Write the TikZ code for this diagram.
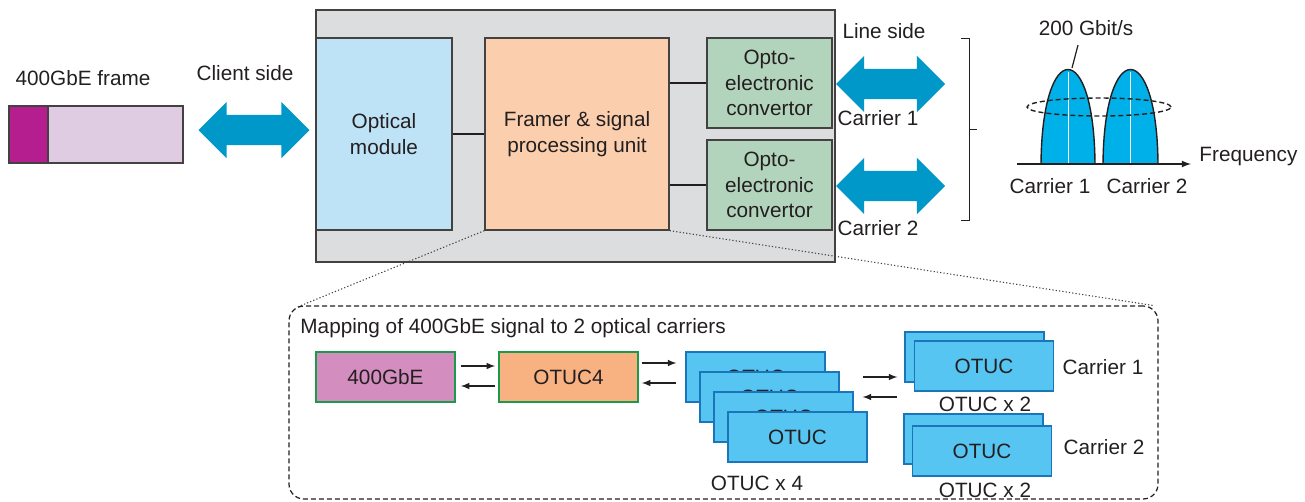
\documentclass[tikz,border=0pt]{standalone}
\usepackage{fontspec}
\setmainfont{Liberation Sans}
\usetikzlibrary{shapes.arrows}

\definecolor{ink}{HTML}{231F20}
\definecolor{boxgray}{HTML}{DCDDDF}
\definecolor{opticblue}{HTML}{BEE3F7}
\definecolor{framerpeach}{HTML}{FBCFAD}
\definecolor{optogreen}{HTML}{B3D4BC}
\definecolor{arrowblue}{HTML}{0098C8}
\definecolor{framebody}{HTML}{DFCCE2}
\definecolor{framehead}{HTML}{B41E8E}
\definecolor{lobecyan}{HTML}{00B0E8}
\definecolor{gbepink}{HTML}{D38DBF}
\definecolor{otucorange}{HTML}{F8B282}
\definecolor{greenedge}{HTML}{1B9A4B}
\definecolor{otucfill}{HTML}{56C5F1}
\definecolor{otucedge}{HTML}{1B75BB}

\begin{document}
\begin{tikzpicture}[x=0.2mm, y=-0.2mm, >=latex, line width=0.7pt, draw=ink,
  every node/.style={font=\fontsize{11.8}{14.5}\selectfont, text=ink},
  blk/.style={rectangle, draw=ink!85, line width=0.7pt, inner sep=0pt, align=center},
  bigarrow/.style={double arrow, fill=arrowblue, inner xsep=0pt, inner ysep=2.9mm, minimum height=22.2mm, double arrow head extend=2.6mm},
  gbox/.style={blk, draw=greenedge, line width=0.9pt, minimum width=27.8mm, minimum height=10mm},
  otuc/.style={blk, draw=otucedge, fill=otucfill, minimum width=27.8mm, minimum height=10mm},
  zoomline/.style={ink!85, line width=0.6pt, dash pattern=on 0.7pt off 1.2pt}]
  \useasboundingbox (0,0) rectangle (1305,501);

  \node (frametitle) at (83,78) {400GbE frame};
  \node[blk, fill=framebody, minimum width=27mm, minimum height=11.4mm] (fbody) at (115.5,134.5) {};
  \node[blk, fill=framehead, minimum width=7.8mm, minimum height=11.4mm] (fhead) at (28.5,134.5) {};
  \node[bigarrow] (clientarrow) at (254,130) {};
  \node (clientside) at (245,73) {Client side};

  \node[blk, fill=boxgray, line width=0.9pt, minimum width=103.8mm, minimum height=50.4mm] (xcvr) at (575.5,136) {};
  \node[blk, fill=opticblue, minimum width=27.2mm, minimum height=38.4mm] (optic) at (384,134) {Optical\\module};
  \node[blk, fill=framerpeach, minimum width=36.8mm, minimum height=38.4mm, right of=optic, node distance=38.6mm] (framer) {Framer \& signal\\processing unit};
  \node[blk, fill=optogreen, minimum width=25mm, minimum height=18mm] (opto1) at (769.5,83) {Opto-\\electronic\\convertor};
  \node[blk, fill=optogreen, minimum width=25mm, minimum height=18mm, below of=opto1, node distance=20.4mm] (opto2) {Opto-\\electronic\\convertor};
  \draw (optic) -- (framer);
  \draw (opto1.west) -- (opto1.west -| framer.east);
  \draw (opto2.west) -- (opto2.west -| framer.east);

  \node (lineside) at (884,31) {Line side};
  \node[bigarrow, minimum height=21.8mm] (linearrow1) at (890.5,84) {};
  \node[bigarrow, minimum height=21.8mm] (linearrow2) at (890.5,186) {};
  \node (carrier1) at (878,118) {Carrier 1};
  \node (carrier2) at (878,228) {Carrier 2};
  \draw[line width=0.5pt] (961,38) -- (969,38) -- (969,220) -- (961,220) (969,129) -- (977,129);

  \coordinate (f0) at (1017,164);
  \coordinate (f1) at (1191,164);
  \node[anchor=west] (freq) at (1193,157) {Frequency};
  \draw[fill=lobecyan, line width=0.8pt] (1041,164) .. controls (1042,38) and (1094,38) .. (1095,164);
  \draw[fill=lobecyan, line width=0.8pt] (1103,164) .. controls (1104,38) and (1157,38) .. (1158,164);
  \draw[white, line width=0.3pt] (1068,164) -- (1068,72) (1130.5,164) -- (1130.5,72);
  \draw[->, line width=0.8pt] (f0) -- (f1);
  \draw[line width=0.8pt, dash pattern=on 1mm off 0.6mm] (1099,107) ellipse [x radius=14.4mm, y radius=1.8mm];
  \node (rate) at (1086,28) {200 Gbit/s};
  \coordinate (tag) at (1078,45);
  \coordinate (peak1) at (1072,68);
  \draw (tag) -- (peak1);
  \node (spec1) at (1050,186) {Carrier 1};
  \node (spec2) at (1147,186) {Carrier 2};

  \node[draw=ink, line width=0.7pt, dash pattern=on 1mm off 0.6mm, rounded corners=3mm, minimum width=173.8mm, minimum height=38.6mm] (mapbox) at (723.5,402.5) {};
  \draw[zoomline] (framer.south west) -- ([shift={(1.6mm,-0.4mm)}]mapbox.north west);
  \draw[zoomline] (framer.south east) -- ([shift={(-1.2mm,0mm)}]mapbox.north east);
  \node[anchor=west] (maptitle) at (294,328) {Mapping of 400GbE signal to 2 optical carriers};

  \node[gbox, fill=gbepink] (gbe) at (385.5,377) {400GbE};
  \node[gbox, fill=otucorange, right of=gbe, node distance=36.6mm] (otuc4) {OTUC4};
  \draw[->, shorten <=1mm, shorten >=0.6mm] ([yshift=2.2mm]gbe.east) -- ([yshift=2.2mm]otuc4.west);
  \draw[<-, shorten <=1mm, shorten >=0.6mm] ([yshift=-1.8mm]gbe.east) -- ([yshift=-1.8mm]otuc4.west);

  \node[otuc] (st1) at (755.5,377) {OTUC};
  \node[otuc] (st2) at (769.5,397) {OTUC};
  \node[otuc] (st3) at (783.5,417) {OTUC};
  \node[otuc] (st4) at (797.5,437) {OTUC};
  \node (st) at (757,483) {OTUC x 4};
  \draw[->, shorten <=0.6mm, shorten >=1.8mm] ([yshift=2.8mm]otuc4.east) -- ([yshift=2.8mm]otuc4.east -| st1.west);
  \draw[<-, shorten <=0.6mm, shorten >=1.8mm] ([yshift=-1.2mm]otuc4.east) -- ([yshift=-1.2mm]otuc4.east -| st1.west);

  \node[otuc] (c1back) at (974.5,357) {};
  \node[otuc] (c1front) at (984,366) {OTUC};
  \node (c1count) at (985,404) {OTUC x 2};
  \node (c1name) at (1103,367) {Carrier 1};
  \node[otuc] (c2back) at (973.5,439) {};
  \node[otuc] (c2front) at (982,451) {OTUC};
  \node (c2count) at (985,490) {OTUC x 2};
  \node (c2name) at (1104,447) {Carrier 2};
  \draw[->, shorten <=4.6mm, shorten >=1.4mm] ([yshift=4mm]st2.east) -- ([yshift=4mm]st2.east -| c1back.west);
  \draw[<-, shorten <=4.6mm, shorten >=1.4mm] (st2.east) -- (st2.east -| c1back.west);
\end{tikzpicture}
\end{document}
